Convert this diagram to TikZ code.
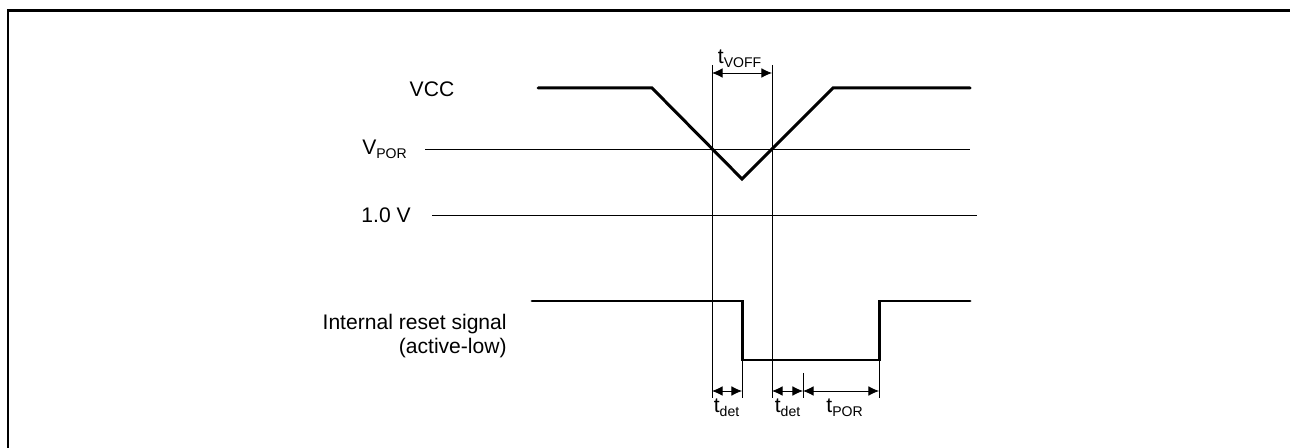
\documentclass[tikz,border=0pt]{standalone}
\usepackage{fontspec}
\setmainfont{Liberation Sans}
\usetikzlibrary{arrows.meta}

\begin{document}
\begin{tikzpicture}[
  x=0.02cm,y=-0.02cm,
  signal/.style={line width=1.7pt,line cap=round},
  thin/.style={line width=0.5pt},
  dim/.style={line width=0.5pt,{Latex[length=6pt,width=5.5pt]}-{Latex[length=6pt,width=5.5pt]}},
  lbl/.style={inner sep=0pt,font=\fontsize{12}{14}\selectfont}
]
\useasboundingbox (0,0) rectangle (1290,448);
\draw[line width=1.7pt] (1290,11) -- (8,11) -- (8,448);

% labels
\node[lbl] (vcc) at (432,89) {VCC};
\node[lbl,anchor=base east] (vpor) at (408,155) {V\textsubscript{POR}};
\node[lbl,anchor=east] (onev) at (411,215) {1.0 V};
\node[lbl,anchor=east,align=right] (rst) at (507,336) {Internal reset signal\\(active-low)};

% level lines
\coordinate (p1) at (425,149);
\coordinate (p2) at (970,149);
\coordinate (o1) at (432,215);
\coordinate (o2) at (977,215);
\draw[thin] (p1) -- (p2);
\draw[thin] (o1) -- (o2);

% VCC
\coordinate (v1) at (538,88);
\coordinate (v2) at (652,88);
\coordinate (v3) at (742,179);
\coordinate (v4) at (833,88);
\coordinate (v5) at (970,88);
\draw[signal] (v1) -- (v2) -- (v3) -- (v4) -- (v5);

% reset
\coordinate (r1) at (532,301);
\coordinate (r2) at (742,301);
\coordinate (r3) at (742,360);
\coordinate (r4) at (879,360);
\coordinate (r5) at (879,301);
\coordinate (r6) at (970,301);
\draw[signal] (r1) -- (r2) -- (r3) -- (r4) -- (r5) -- (r6);

% guide lines
\coordinate (g1t) at (712,65);
\coordinate (g1b) at (712,398);
\coordinate (g2t) at (772,65);
\coordinate (g2b) at (772,398);
\coordinate (g3b) at (742,398);
\coordinate (g4b) at (879,398);
\coordinate (g5t) at (803,373);
\coordinate (g5b) at (803,398);
\draw[thin] (g1t) -- (g1b);
\draw[thin] (g2t) -- (g2b);
\draw[thin] (r3) -- (g3b);
\draw[thin] (r4) -- (g4b);
\draw[thin] (g5t) -- (g5b);

% timing
\coordinate (a1) at (712,73);
\coordinate (a2) at (772,73);
\coordinate (b1) at (712,391);
\coordinate (b2) at (742,391);
\coordinate (b3) at (772,391);
\coordinate (b4) at (803,391);
\coordinate (b5) at (879,391);
\draw[dim] (a1) -- (a2);
\draw[dim] (b1) -- (b2);
\draw[dim] (b3) -- (b4);
\draw[dim] (b4) -- (b5);

\node[lbl,anchor=base] (tvoff) at (740,64) {t\textsubscript{VOFF}};
\node[lbl,anchor=base] (tdet1) at (727,413) {t\textsubscript{det}};
\node[lbl,anchor=base] (tdet2) at (788,413) {t\textsubscript{det}};
\node[lbl,anchor=base] (tpor) at (845,413) {t\textsubscript{POR}};
\end{tikzpicture}
\end{document}
